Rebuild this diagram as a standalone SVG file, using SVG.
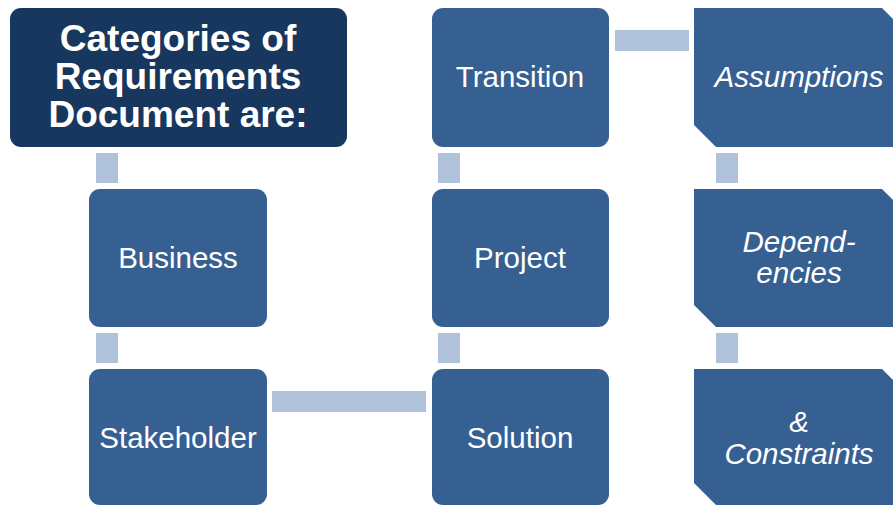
<svg xmlns="http://www.w3.org/2000/svg" width="893" height="506" viewBox="0 0 893 506">
<style>
.box{fill:#376092}
.title{fill:#17375e}
.conn{fill:#b0c1da}
text{font-family:"Liberation Sans",Arial,sans-serif;fill:#fff;text-anchor:middle}
.t{font-size:37px;font-weight:bold}
.n{font-size:29.5px}
.i{font-size:29.5px;font-style:italic}
</style>
<rect width="893" height="506" fill="#fff"/>
<g id="connectors">
<rect class="conn" x="96" y="153" width="22" height="30"/>
<rect class="conn" x="96" y="333" width="22" height="30"/>
<rect class="conn" x="272" y="391" width="154" height="21"/>
<rect class="conn" x="438" y="333" width="22" height="30"/>
<rect class="conn" x="438" y="153" width="22" height="30"/>
<rect class="conn" x="615" y="30" width="74" height="21"/>
<rect class="conn" x="716" y="153" width="22" height="30"/>
<rect class="conn" x="716" y="333" width="22" height="30"/>
</g>
<g id="title">
<rect class="title" x="10" y="8" width="337" height="139" rx="11"/>
<text class="t" x="178" y="51">Categories of</text>
<text class="t" x="178" y="89">Requirements</text>
<text class="t" x="178" y="127">Document are:</text>
</g>
<g id="business">
<rect class="box" x="89" y="189" width="178" height="138" rx="11"/>
<text class="n" x="178" y="268">Business</text>
</g>
<g id="stakeholder">
<rect class="box" x="89" y="369" width="178" height="136" rx="11"/>
<text class="n" x="178" y="448">Stakeholder</text>
</g>
<g id="transition">
<rect class="box" x="432" y="8" width="177" height="139" rx="11"/>
<text class="n" x="520" y="87">Transition</text>
</g>
<g id="project">
<rect class="box" x="432" y="189" width="177" height="138" rx="11"/>
<text class="n" x="520" y="268">Project</text>
</g>
<g id="solution">
<rect class="box" x="432" y="369" width="177" height="136" rx="11"/>
<text class="n" x="520" y="448">Solution</text>
</g>
<g id="assumptions">
<path class="box" d="M694 8H882L904 30V147H716L694 125Z"/>
<text class="i" x="799" y="87">Assumptions</text>
</g>
<g id="dependencies">
<path class="box" d="M694 189H882L904 211V327H716L694 305Z"/>
<text class="i" x="799" y="252">Depend-</text>
<text class="i" x="799" y="283">encies</text>
</g>
<g id="constraints">
<path class="box" d="M694 369H882L904 391V505H716L694 483Z"/>
<text class="i" x="799" y="432">&amp;</text>
<text class="i" x="799" y="464">Constraints</text>
</g>
</svg>
